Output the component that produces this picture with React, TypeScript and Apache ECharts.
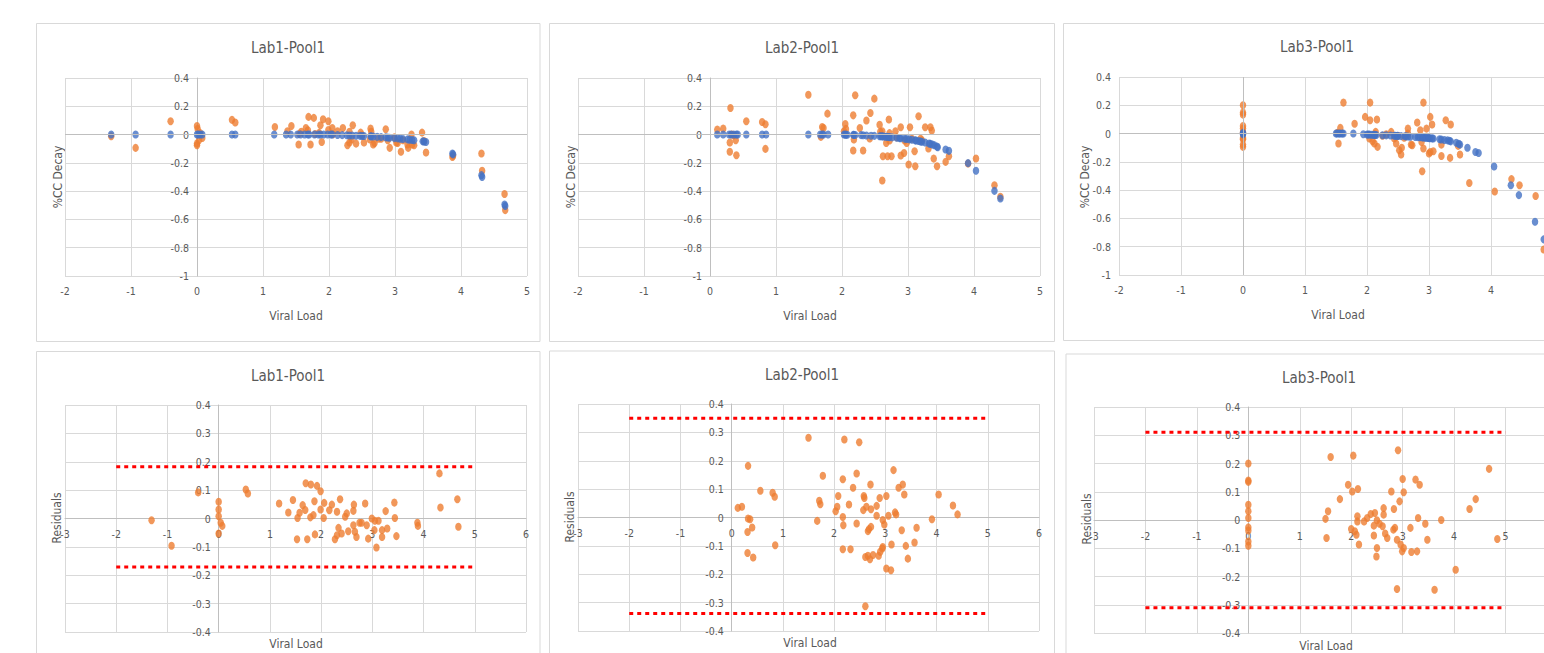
import React, { useEffect, useRef } from "react";
import * as echarts from "echarts";

// ---------- data ----------
const panelTitles = ["Lab1-Pool1", "Lab2-Pool1", "Lab3-Pool1"];
const topXTicks = { min: -2, max: 5, interval: 1 };
const topYTicks = { min: -1, max: 0.4, interval: 0.2 };
const resXTicks = { min: -3, max: 6, interval: 1 };
const resYTicks = { min: -0.4, max: 0.4, interval: 0.1 };

// fitted (blue) %CC decay
const lab1Fit = [[-1.3,0],[-0.93,0],[-0.4,0],[0,0],[0.02,0],[0.05,0],[0.08,0],[0.53,0],[0.58,0],[1.17,0],[1.35,0],[1.42,0],[1.52,0],[1.57,0],[1.63,0],[1.68,0],[1.7,0],[1.78,0],[1.84,0],[1.87,0],[1.92,0],[1.98,0],[2.03,0],[2.05,0],[2.13,-0.003],[2.2,-0.004],[2.27,-0.005],[2.31,-0.006],[2.35,-0.007],[2.41,-0.008],[2.47,-0.009],[2.5,-0.01],[2.53,-0.01],[2.63,-0.012],[2.64,-0.013],[2.67,-0.014],[2.73,-0.016],[2.79,-0.018],[2.86,-0.02],[2.89,-0.021],[2.92,-0.022],[2.99,-0.025],[3.04,-0.027],[3.08,-0.03],[3.12,-0.031],[3.19,-0.034],[3.22,-0.036],[3.26,-0.038],[3.29,-0.04],[3.42,-0.048],[3.44,-0.05],[3.47,-0.053],[3.87,-0.134],[3.88,-0.14],[4.31,-0.287],[4.32,-0.3],[4.66,-0.494],[4.67,-0.505]];
const lab2Fit = [[0.11,0],[0.2,0],[0.29,0],[0.32,0],[0.36,0],[0.4,0],[0.42,0],[0.55,0],[0.79,0],[0.85,0],[1.49,0],[1.67,0],[1.7,0],[1.72,0],[1.79,0],[2.03,0],[2.05,0],[2.06,-0.001],[2.08,-0.001],[2.17,-0.002],[2.18,-0.002],[2.2,-0.003],[2.29,-0.004],[2.32,-0.005],[2.37,-0.006],[2.44,-0.008],[2.49,-0.009],[2.57,-0.012],[2.59,-0.012],[2.61,-0.013],[2.63,-0.014],[2.66,-0.015],[2.68,-0.016],[2.71,-0.017],[2.72,-0.018],[2.76,-0.02],[2.83,-0.023],[2.87,-0.025],[2.89,-0.026],[2.95,-0.029],[2.98,-0.031],[3.02,-0.034],[3.06,-0.037],[3.11,-0.041],[3.12,-0.042],[3.16,-0.046],[3.19,-0.049],[3.21,-0.051],[3.26,-0.056],[3.32,-0.063],[3.34,-0.066],[3.37,-0.07],[3.4,-0.075],[3.44,-0.085],[3.45,-0.09],[3.57,-0.106],[3.62,-0.115],[3.91,-0.202],[4.03,-0.256],[4.31,-0.398],[4.4,-0.452]];
const lab3Fit = [[0,0],[0,0.005],[0,-0.005],[1.5,0],[1.52,0],[1.55,0],[1.57,0],[1.6,0],[1.62,0],[1.78,0],[1.94,-0.005],[2.0,-0.006],[2.02,-0.006],[2.04,-0.007],[2.07,-0.008],[2.1,-0.009],[2.12,-0.009],[2.13,-0.01],[2.15,-0.01],[2.25,-0.012],[2.31,-0.013],[2.38,-0.014],[2.44,-0.015],[2.46,-0.016],[2.49,-0.016],[2.5,-0.017],[2.55,-0.018],[2.61,-0.019],[2.63,-0.02],[2.66,-0.021],[2.7,-0.022],[2.78,-0.024],[2.82,-0.025],[2.85,-0.026],[2.89,-0.027],[2.91,-0.028],[2.94,-0.029],[2.96,-0.03],[2.99,-0.031],[3.0,-0.032],[3.02,-0.033],[3.05,-0.034],[3.07,-0.035],[3.17,-0.04],[3.2,-0.042],[3.25,-0.045],[3.3,-0.048],[3.33,-0.051],[3.35,-0.055],[3.44,-0.065],[3.48,-0.072],[3.5,-0.078],[3.62,-0.1],[3.75,-0.13],[3.8,-0.137],[4.05,-0.233],[4.32,-0.365],[4.45,-0.435],[4.71,-0.624],[4.85,-0.748]];

// observed (orange) %CC decay
const lab1Obs = [[-1.3,-0.012],[-0.93,-0.094],[-0.4,0.094],[0,0.061],[0.01,0.04],[0,-0.064],[0,-0.075],[0.03,-0.04],[0.08,-0.024],[0.05,0.01],[0.53,0.104],[0.58,0.085],[1.18,0.054],[1.37,0.024],[1.43,0.061],[1.54,-0.07],[1.55,0.005],[1.58,0.02],[1.65,0.047],[1.69,0.125],[1.68,0.03],[1.72,-0.07],[1.77,0.118],[1.79,0.004],[1.85,0.012],[1.87,0.066],[1.89,-0.052],[1.91,0.108],[1.99,0.094],[1.99,0.032],[2.05,0.047],[2.06,0.002],[2.13,0.024],[2.21,0.047],[2.28,-0.075],[2.31,-0.056],[2.31,0.02],[2.34,-0.035],[2.36,0.066],[2.41,-0.064],[2.48,0.014],[2.5,-0.005],[2.53,-0.056],[2.62,-0.035],[2.63,0.042],[2.64,0.02],[2.67,-0.07],[2.69,-0.06],[2.75,-0.03],[2.79,-0.03],[2.86,0.038],[2.89,-0.04],[2.92,-0.094],[2.99,-0.02],[3.02,-0.056],[3.04,-0.06],[3.09,-0.122],[3.12,-0.04],[3.2,-0.094],[3.19,-0.07],[3.25,0],[3.26,-0.07],[3.29,-0.075],[3.41,0.014],[3.44,-0.045],[3.47,-0.127],[3.87,-0.158],[3.88,-0.15],[4.31,-0.134],[4.32,-0.256],[4.66,-0.42],[4.67,-0.534]];
const lab2Obs = [[0.11,0.035],[0.2,0.042],[0.31,0.188],[0.3,-0.056],[0.3,-0.122],[0.39,-0.04],[0.4,-0.146],[0.33,0],[0.36,-0.005],[0.55,0.094],[0.79,0.089],[0.84,0.073],[0.84,-0.101],[1.49,0.282],[1.68,-0.016],[1.7,0.054],[1.72,0.047],[1.78,0.148],[2.03,0.024],[2.05,0.075],[2.06,0.04],[2.17,0.136],[2.18,-0.035],[2.17,-0.113],[2.2,0.278],[2.27,0.047],[2.32,-0.113],[2.37,0.1],[2.43,0.153],[2.42,-0.028],[2.49,0.254],[2.57,0.07],[2.58,0.02],[2.61,0.024],[2.61,-0.325],[2.62,-0.153],[2.67,-0.06],[2.69,-0.153],[2.71,0.106],[2.72,-0.042],[2.72,0.01],[2.75,-0.153],[2.81,0.024],[2.83,-0.02],[2.89,0.052],[2.89,-0.148],[2.94,-0.13],[2.95,-0.042],[2.98,-0.06],[3.01,-0.212],[3.03,0.052],[3.06,-0.03],[3.1,-0.118],[3.11,-0.224],[3.16,0.13],[3.19,-0.03],[3.21,-0.04],[3.26,0.052],[3.31,-0.099],[3.34,0.052],[3.36,0.028],[3.39,-0.17],[3.44,-0.224],[3.57,-0.193],[3.62,-0.153],[3.91,-0.205],[4.03,-0.169],[4.31,-0.358],[4.4,-0.44]];
const lab3Obs = [[0,0.2],[0,0.148],[0,0.134],[0,0.054],[0,0.035],[0,0.01],[0,-0.031],[0,-0.04],[0,-0.078],[0,-0.094],[1.54,-0.07],[1.52,0.005],[1.57,0.04],[1.62,0.219],[1.8,0.07],[1.97,0.118],[2.05,0.219],[2.05,0.094],[2.16,0.1],[2.14,0.012],[2.13,-0.005],[2.04,-0.035],[2.09,-0.054],[2.12,-0.07],[2.17,-0.094],[2.25,-0.015],[2.31,-0.005],[2.39,0.012],[2.44,-0.035],[2.47,-0.07],[2.5,-0.015],[2.52,-0.118],[2.55,-0.148],[2.56,-0.1],[2.6,-0.03],[2.66,0.035],[2.66,0],[2.71,-0.078],[2.73,-0.082],[2.81,0.078],[2.86,0.024],[2.88,-0.059],[2.91,0.219],[2.91,-0.106],[2.89,-0.266],[2.96,0.035],[3.0,-0.141],[3.02,0.118],[3.05,0.064],[3.07,-0.125],[3.02,-0.13],[3.2,-0.078],[3.2,-0.158],[3.27,0.094],[3.34,-0.172],[3.35,0.064],[3.47,-0.087],[3.5,-0.148],[3.65,-0.35],[4.06,-0.41],[4.33,-0.322],[4.46,-0.365],[4.72,-0.442],[4.85,-0.82]];

// residuals (orange)
const lab1Res = [[-1.31,-0.006],[-0.92,-0.096],[-0.4,0.092],[0,0.059],[0,0.032],[0,0.008],[0.04,-0.015],[0.07,-0.026],[0,-0.053],[0.53,0.102],[0.57,0.088],[1.18,0.053],[1.36,0.021],[1.45,0.065],[1.53,-0.073],[1.54,0.002],[1.58,0.02],[1.64,0.047],[1.69,0.03],[1.7,0.124],[1.73,-0.073],[1.8,0.12],[1.79,0.004],[1.85,0.012],[1.87,0.061],[1.88,-0.056],[1.92,0.115],[1.99,0.096],[1.99,0.032],[2.05,0.002],[2.06,0.055],[2.16,0.029],[2.21,0.049],[2.27,-0.073],[2.31,0.024],[2.34,-0.033],[2.37,0.068],[2.31,-0.059],[2.4,-0.053],[2.47,0.006],[2.5,0.018],[2.53,-0.045],[2.63,-0.024],[2.63,0.027],[2.64,0.049],[2.66,-0.047],[2.69,-0.065],[2.75,-0.015],[2.79,-0.015],[2.86,0.053],[2.89,-0.024],[2.92,-0.071],[2.99,0],[3.05,-0.008],[3.04,-0.041],[3.08,-0.102],[3.12,-0.008],[3.19,-0.041],[3.19,-0.065],[3.26,0.026],[3.29,-0.035],[3.43,0.056],[3.44,0.002],[3.47,-0.062],[3.88,-0.015],[3.89,-0.026],[4.31,0.159],[4.33,0.039],[4.66,0.068],[4.68,-0.029]];
const lab2Res = [[0.12,0.034],[0.2,0.038],[0.32,0.182],[0.32,-0.004],[0.36,-0.006],[0.31,-0.051],[0.4,-0.035],[0.31,-0.125],[0.42,-0.141],[0.56,0.094],[0.8,0.087],[0.84,0.073],[0.85,-0.098],[1.5,0.281],[1.67,-0.012],[1.71,0.059],[1.73,0.047],[1.78,0.147],[2.03,0.022],[2.06,0.038],[2.08,0.076],[2.17,0.135],[2.17,0.002],[2.18,-0.027],[2.17,-0.112],[2.2,0.275],[2.29,0.046],[2.32,-0.112],[2.37,0.105],[2.44,0.155],[2.44,-0.021],[2.49,0.265],[2.57,0.026],[2.58,0.076],[2.59,0.069],[2.61,-0.139],[2.61,-0.313],[2.63,0.038],[2.66,-0.048],[2.66,-0.135],[2.68,-0.041],[2.7,-0.147],[2.71,0.116],[2.72,0.029],[2.72,-0.033],[2.76,-0.132],[2.83,0.041],[2.83,0.006],[2.87,-0.135],[2.89,0.069],[2.9,-0.121],[2.94,-0.109],[2.95,-0.009],[2.95,-0.104],[2.98,-0.025],[3.02,0.076],[3.02,-0.18],[3.06,0.006],[3.11,-0.186],[3.12,-0.095],[3.16,0.167],[3.19,0.018],[3.21,0.011],[3.26,0.105],[3.32,-0.045],[3.34,0.116],[3.37,0.081],[3.4,-0.1],[3.44,-0.145],[3.57,-0.088],[3.61,-0.036],[3.91,-0.006],[4.04,0.081],[4.32,0.042],[4.41,0.011]];
const lab3Res = [[0,0.2],[0,0.14],[0,0.135],[0,0.054],[0,0.031],[0,0.007],[0,-0.026],[0,-0.037],[0,-0.076],[0,-0.091],[1.5,0.004],[1.52,-0.064],[1.55,0.031],[1.6,0.223],[1.78,0.074],[1.94,0.125],[2.02,0.101],[2.04,0.228],[2.13,0.11],[2.0,-0.032],[2.07,-0.04],[2.1,-0.052],[2.12,0.013],[2.12,-0.005],[2.15,-0.087],[2.25,-0.005],[2.31,0.007],[2.38,0.021],[2.46,0.025],[2.44,-0.02],[2.44,-0.055],[2.5,-0.001],[2.5,-0.099],[2.49,-0.129],[2.55,-0.013],[2.61,-0.022],[2.63,0.042],[2.63,0.019],[2.66,-0.048],[2.7,-0.064],[2.78,0.101],[2.83,0.039],[2.82,-0.034],[2.85,-0.028],[2.89,-0.07],[2.89,-0.244],[2.91,0.247],[2.94,0.066],[2.96,-0.087],[2.99,-0.111],[3.0,0.145],[3.02,-0.099],[3.02,0.098],[3.15,-0.028],[3.17,-0.113],[3.25,0.143],[3.3,0.007],[3.28,-0.111],[3.33,0.125],[3.44,-0.013],[3.48,-0.07],[3.62,-0.247],[3.75,0],[4.03,-0.176],[4.3,0.039],[4.42,0.074],[4.68,0.181],[4.84,-0.067]];

// limit lines (upper, lower) and their x extent
const lab1Limits = [0.182, -0.171];
const lab2Limits = [0.35, -0.338];
const lab3Limits = [0.311, -0.311];
const limitXRange = [-2, 5];

// ---------- styling / layout ----------
const FONT = '"Liberation Sans Narrow", "DejaVu Sans Condensed", "Open Sans", Roboto, sans-serif';
const TXT = "#595959";
const GRID_C = "#d9d9d9";
const AXIS_C = "#bfbfbf";
const ORANGE = "#ED7D31";
const BLUE = "#4472C4";
const DOT = [6.5, 8];

const topGrids = [
  { left: 65, top: 78, width: 462, height: 198 },
  { left: 578, top: 78, width: 462, height: 198 },
  { left: 1119, top: 77, width: 434, height: 198 },
];
const botGrids = [
  { left: 65, top: 405, width: 461, height: 227 },
  { left: 578, top: 404, width: 461, height: 227 },
  { left: 1094, top: 407, width: 463, height: 226 },
];
// the third column runs past the right edge of the page in the reference
const cutOffPanel = [false, false, true];
const panelBoxes = [
  [36.5, 23.5, 503.5, 318], [549.5, 23.5, 505, 318], [1063.5, 23.5, 520, 317],
  [36.5, 351.5, 503.5, 310], [549.5, 351, 505, 310], [1066, 354, 520, 310],
];
const titlePos = [[288, 48], [802, 48], [1317, 46.5], [288, 376], [802, 374.5], [1319, 378]];
const xNamePos = [[296, 316], [810, 316], [1338, 315], [296, 644], [810, 643], [1326, 646]];
const yNamePos = [[58, 177], [571, 177], [1085, 177], [57, 518], [570, 517], [1087, 519]];

// pixel shift that puts an axis on the other axis's zero
const zeroShift = (len: number, t: { min: number; max: number }) => -len * (0 - t.min) / (t.max - t.min);

export default function App() {
  const ref = useRef<HTMLDivElement>(null);
  useEffect(() => {
    if (!ref.current) return;
    const chart = echarts.init(ref.current, undefined, { renderer: "svg" });
    const fits = [lab1Fit, lab2Fit, lab3Fit];
    const obs = [lab1Obs, lab2Obs, lab3Obs];
    const res = [lab1Res, lab2Res, lab3Res];
    const lims = [lab1Limits, lab2Limits, lab3Limits];

    const label = { color: TXT, fontSize: 10.5, fontFamily: FONT };
    const split = { show: true, lineStyle: { color: GRID_C, width: 1 } };

    const grid: any[] = [...topGrids, ...botGrids];
    const xAxis: any[] = [];
    const yAxis: any[] = [];
    const series: any[] = [];

    for (let i = 0; i < 3; i++) {
      const g = topGrids[i];
      xAxis.push({
        type: "value", gridIndex: i, ...topXTicks, position: "bottom",
        axisLine: { show: false, onZero: false }, axisTick: { show: false },
        axisLabel: { ...label, margin: 9, showMaxLabel: !cutOffPanel[i] }, splitLine: split,
      });
      const atZero = i < 2;
      yAxis.push({
        type: "value", gridIndex: i, ...topYTicks, position: "left",
        offset: atZero ? zeroShift(g.width, topXTicks) : 0,
        axisLine: { show: atZero, onZero: false, lineStyle: { color: AXIS_C } },
        axisTick: { show: false }, axisLabel: { ...label, margin: 8 }, splitLine: split,
      });
    }
    for (let i = 0; i < 3; i++) {
      const g = botGrids[i];
      xAxis.push({
        type: "value", gridIndex: 3 + i, ...resXTicks, position: "bottom",
        offset: zeroShift(g.height, resYTicks),
        axisLine: { show: true, onZero: false, lineStyle: { color: AXIS_C } }, axisTick: { show: false },
        axisLabel: { ...label, margin: 10, showMaxLabel: !cutOffPanel[i] }, splitLine: split,
      });
      yAxis.push({
        type: "value", gridIndex: 3 + i, ...resYTicks, position: "left",
        offset: zeroShift(g.width, resXTicks),
        axisLine: { show: true, onZero: false, lineStyle: { color: AXIS_C } },
        axisTick: { show: false }, axisLabel: { ...label, margin: 8 }, splitLine: split,
      });
    }

    for (let i = 0; i < 3; i++) {
      const ml: any[] = [{ yAxis: 0 }];
      if (i === 2) ml.push({ xAxis: 0 });
      series.push({
        type: "scatter", xAxisIndex: i, yAxisIndex: i, data: obs[i], symbolSize: DOT,
        itemStyle: { color: ORANGE },
        markLine: { silent: true, symbol: "none", label: { show: false }, lineStyle: { color: AXIS_C, type: "solid", width: 1 }, data: ml },
      });
      series.push({
        type: "scatter", xAxisIndex: i, yAxisIndex: i, data: fits[i], symbolSize: DOT,
        itemStyle: { color: BLUE },
      });
    }
    for (let i = 0; i < 3; i++) {
      series.push({
        type: "scatter", xAxisIndex: 3 + i, yAxisIndex: 3 + i, data: res[i], symbolSize: DOT,
        itemStyle: { color: ORANGE },
      });
      lims[i].forEach((v) => {
        series.push({
          type: "line", xAxisIndex: 3 + i, yAxisIndex: 3 + i, symbol: "none",
          data: [[limitXRange[0], v], [limitXRange[1], v]],
          lineStyle: { color: "#FF0000", width: 3, type: [4, 4], cap: "butt" },
        });
      });
    }

    const graphic: any[] = [];
    panelBoxes.forEach(([x, y, w, h]) => {
      graphic.push({ type: "rect", shape: { x, y, width: w, height: h }, style: { fill: "none", stroke: GRID_C, lineWidth: 1 }, z: -10, silent: true });
    });
    for (let k = 0; k < 6; k++) {
      graphic.push({
        type: "text", x: titlePos[k][0], y: titlePos[k][1], silent: true,
        style: { text: panelTitles[k % 3], fill: TXT, fontSize: 15, fontFamily: FONT, align: "center", verticalAlign: "middle" },
      });
      graphic.push({
        type: "text", x: xNamePos[k][0], y: xNamePos[k][1], silent: true,
        style: { text: "Viral Load", fill: TXT, fontSize: 12, fontFamily: FONT, align: "center", verticalAlign: "middle" },
      });
      graphic.push({
        type: "text", x: yNamePos[k][0], y: yNamePos[k][1], rotation: Math.PI / 2, silent: true,
        style: { text: k < 3 ? "%CC Decay" : "Residuals", fill: TXT, fontSize: 12, fontFamily: FONT, align: "center", verticalAlign: "middle" },
      });
    }

    chart.setOption({
      animation: false,
      backgroundColor: "#ffffff",
      grid, xAxis, yAxis, series, graphic,
    });
    return () => chart.dispose();
  }, []);
  return (
    <div style={{ position: "absolute", left: 0, top: 0, width: 1544, height: 653, overflow: "hidden" }}>
      <div ref={ref} style={{ width: 1600, height: 653 }} />
    </div>
  );
}
